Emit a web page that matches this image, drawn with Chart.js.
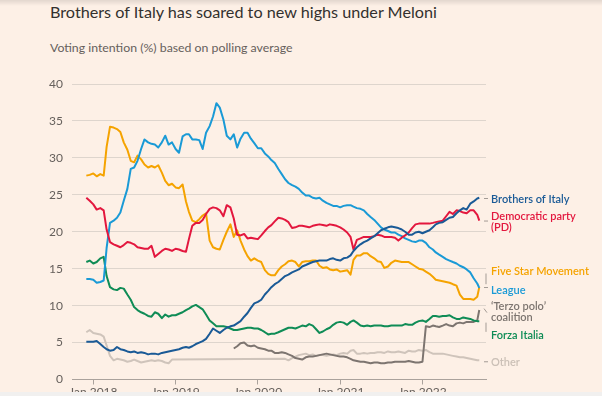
<!DOCTYPE html>
<html>
<head>
<meta charset="utf-8">
<script src="https://cdn.jsdelivr.net/npm/chart.js@4.4.0/dist/chart.umd.min.js"></script>
<style>
  html, body { margin: 0; padding: 0; }
  body {
    width: 602px; height: 396px; overflow: hidden; position: relative;
    background: #fdf0e6; font-family: Lato, "Open Sans", sans-serif;
  }
  #title { position: absolute; left: 50px; top: 2px; font-size: 16.2px; line-height: 19.4px; color: #33302e; white-space: nowrap; }
  #subtitle { position: absolute; left: 50px; top: 40px; font-size: 12.3px; line-height: 15px; color: #66605c; white-space: nowrap; }
  #chart { position: absolute; left: 0; top: 0; }
  #shade { position: absolute; left: 0; top: 0; width: 602px; height: 6px; background: linear-gradient(rgba(0,0,0,0.10), rgba(0,0,0,0)); }
  #foot { position: absolute; left: 0; top: 392px; width: 602px; height: 4px; background: #f1f0ef; }
</style>
</head>
<body>
<div id="title">Brothers of Italy has soared to new highs under Meloni</div>
<div id="subtitle">Voting intention (%) based on polling average</div>
<canvas id="chart" width="602" height="396"></canvas>
<div id="shade"></div>
<div id="foot"></div>
<script>
// polling dates, 1st and 16th of each month
const dates = [
  "2017-12-01", "2017-12-16",
  "2018-01-01", "2018-01-16", "2018-02-01", "2018-02-16", "2018-03-01", "2018-03-16",
  "2018-04-01", "2018-04-16", "2018-05-01", "2018-05-16", "2018-06-01", "2018-06-16",
  "2018-07-01", "2018-07-16", "2018-08-01", "2018-08-16", "2018-09-01", "2018-09-16",
  "2018-10-01", "2018-10-16", "2018-11-01", "2018-11-16", "2018-12-01", "2018-12-16",
  "2019-01-01", "2019-01-16", "2019-02-01", "2019-02-16", "2019-03-01", "2019-03-16",
  "2019-04-01", "2019-04-16", "2019-05-01", "2019-05-16", "2019-06-01", "2019-06-16",
  "2019-07-01", "2019-07-16", "2019-08-01", "2019-08-16", "2019-09-01", "2019-09-16",
  "2019-10-01", "2019-10-16", "2019-11-01", "2019-11-16", "2019-12-01", "2019-12-16",
  "2020-01-01", "2020-01-16", "2020-02-01", "2020-02-16", "2020-03-01", "2020-03-16",
  "2020-04-01", "2020-04-16", "2020-05-01", "2020-05-16", "2020-06-01", "2020-06-16",
  "2020-07-01", "2020-07-16", "2020-08-01", "2020-08-16", "2020-09-01", "2020-09-16",
  "2020-10-01", "2020-10-16", "2020-11-01", "2020-11-16", "2020-12-01", "2020-12-16",
  "2021-01-01", "2021-01-16", "2021-02-01", "2021-02-16", "2021-03-01", "2021-03-16",
  "2021-04-01", "2021-04-16", "2021-05-01", "2021-05-16", "2021-06-01", "2021-06-16",
  "2021-07-01", "2021-07-16", "2021-08-01", "2021-08-16", "2021-09-01", "2021-09-16",
  "2021-10-01", "2021-10-16", "2021-11-01", "2021-11-16", "2021-12-01", "2021-12-16",
  "2022-01-01", "2022-01-16", "2022-02-01", "2022-02-16", "2022-03-01", "2022-03-16",
  "2022-04-01", "2022-04-16", "2022-05-01", "2022-05-16", "2022-06-01", "2022-06-16",
  "2022-07-01", "2022-07-16", "2022-08-01", "2022-08-16", "2022-09-01", "2022-09-10"
];

const brothersOfItaly = [
  5.1, 5.1, 5.1, 5.2, 4.8, 4.4, 4.1, 3.9, 4.0, 4.4,
  4.1, 4.0, 3.8, 3.7, 3.8, 3.6, 3.7, 3.6, 3.4, 3.5,
  3.5, 3.4, 3.6, 3.7, 3.8, 3.9, 4.0, 4.1, 4.3, 4.4,
  4.3, 4.5, 4.8, 5.0, 5.2, 5.5, 6.2, 6.9, 6.6, 6.3,
  6.7, 7.0, 7.2, 7.3, 7.6, 7.9, 8.5, 9.0, 9.7, 10.3,
  10.5, 10.8, 11.5, 12.0, 12.5, 12.9, 13.2, 13.6, 14.0, 14.2,
  14.5, 14.7, 14.9, 15.3, 15.5, 15.7, 15.9, 16.0, 16.1, 16.1,
  16.1, 16.3, 16.4, 16.2, 16.1, 16.4, 16.5, 16.8, 17.4, 17.9,
  18.3, 18.6, 18.8, 19.1, 19.4, 19.8, 20.2, 20.4, 20.6, 20.7,
  20.6, 20.5, 20.3, 20.0, 19.6, 19.6, 19.9, 20.0, 19.8, 20.0,
  20.2, 20.6, 21.0, 21.2, 21.3, 21.6, 21.9, 22.0, 22.5, 22.9,
  23.2, 23.0, 23.8, 24.1, 24.5, 24.6
];

const democraticParty = [
  24.6, 24.2, 23.7, 23.0, 23.2, 22.9, 20.3, 18.6, 18.3, 18.1,
  17.9, 18.2, 18.6, 18.5, 18.3, 17.9, 17.8, 17.7, 17.7, 18.1,
  16.6, 17.0, 17.4, 17.7, 17.6, 17.4, 17.7, 17.6, 17.4, 17.3,
  19.0, 20.8, 21.2, 21.2, 21.6, 22.4, 23.1, 23.3, 23.2, 22.9,
  22.1, 23.6, 23.3, 21.8, 19.6, 19.5, 19.7, 19.1, 19.2, 19.1,
  19.0, 19.5, 20.1, 20.6, 20.9, 21.4, 21.9, 21.8, 21.6, 21.3,
  20.5, 20.6, 20.8, 20.8, 20.7, 20.6, 20.8, 20.9, 21.0, 20.9,
  20.8, 21.0, 20.9, 20.8, 20.6, 20.3, 19.9, 19.3, 17.6, 18.9,
  19.1, 19.3, 19.3, 19.3, 19.4, 19.6, 19.5, 19.3, 19.3, 19.3,
  19.2, 18.8, 19.2, 19.5, 19.9, 20.5, 21.0, 21.1, 21.1, 21.1,
  21.1, 21.2, 21.3, 21.4, 21.5, 22.1, 22.7, 22.4, 22.9, 22.8,
  22.6, 22.5, 22.9, 22.9, 22.3, 21.5
];

const fiveStar = [
  27.6, 27.7, 27.9, 27.5, 27.8, 27.6, 31.5, 34.2, 34.1, 33.9,
  33.5, 32.1, 31.1, 29.6, 29.4, 30.3, 29.8, 29.1, 28.7, 28.9,
  28.7, 29.0, 28.0, 26.9, 26.3, 26.5, 26.0, 25.9, 26.4, 24.1,
  22.7, 21.5, 21.3, 21.7, 22.2, 22.5, 18.8, 17.9, 17.7, 17.6,
  18.9, 20.0, 21.0, 19.3, 20.2, 18.8, 17.6, 16.7, 16.1, 16.4,
  16.1, 15.9, 14.8, 14.3, 14.1, 14.1, 14.8, 15.3, 15.6, 16.0,
  16.1, 15.9, 15.3, 15.9, 16.0, 16.0, 16.1, 16.1, 15.4, 15.1,
  15.2, 14.9, 14.8, 14.9, 14.6, 14.7, 14.8, 14.2, 16.2, 16.8,
  16.8, 17.1, 17.1, 16.7, 16.4, 16.0, 15.9, 15.1, 15.3, 15.8,
  16.1, 16.0, 15.9, 15.9, 15.9, 15.6, 15.3, 15.0, 14.9, 14.6,
  14.3, 13.9, 13.5, 13.4, 13.3, 13.2, 13.1, 12.9, 12.7, 11.5,
  10.9, 10.9, 10.9, 10.8, 11.2, 12.5
];

const league = [
  13.6, 13.6, 13.5, 13.1, 13.2, 13.4, 17.8, 21.2, 21.5, 21.9,
  22.6, 24.2, 25.8, 28.5, 28.7, 29.6, 31.2, 32.5, 32.1, 31.9,
  31.8, 31.4, 32.1, 33.0, 31.8, 32.1, 31.2, 30.7, 32.9, 33.2,
  33.2, 32.5, 32.5, 32.4, 31.2, 33.4, 34.3, 35.6, 37.4, 36.8,
  35.2, 33.0, 32.5, 33.2, 31.4, 32.6, 33.4, 33.4, 32.6, 32.0,
  31.3, 31.3, 30.6, 30.2, 29.7, 29.3, 28.5, 27.8, 27.1, 26.6,
  26.3, 26.1, 25.8, 25.3, 24.9, 24.9, 24.6, 24.5, 24.6, 24.2,
  23.9, 23.7, 23.5, 23.5, 23.3, 23.5, 23.6, 23.6, 23.4, 23.2,
  23.1, 22.9, 22.4, 22.0, 21.6, 21.1, 20.6, 20.3, 20.1, 19.9,
  19.9, 19.6, 19.4, 19.1, 18.9, 18.7, 18.6, 18.8, 18.8, 18.5,
  17.9, 17.6, 17.2, 16.9, 16.6, 16.3, 16.1, 15.9, 15.7, 15.4,
  15.2, 14.9, 14.5, 13.7, 13.0, 12.4
];

const forzaItalia = [
  15.9, 16.1, 15.7, 15.9, 16.4, 16.6, 14.0, 12.5, 12.2, 12.1,
  12.4, 12.3, 11.5, 10.8, 9.8, 9.4, 9.1, 8.9, 8.6, 8.5,
  9.1, 8.9, 8.3, 8.8, 8.5, 8.7, 8.7, 8.9, 9.1, 9.4,
  9.6, 9.9, 10.1, 9.8, 9.5, 8.8, 8.0, 7.6, 7.2, 7.2,
  7.2, 7.1, 6.9, 6.7, 6.7, 6.8, 6.9, 7.0, 7.0, 6.9,
  6.9, 6.7, 6.4, 6.1, 6.2, 6.2, 6.4, 6.6, 6.8, 7.0,
  7.0, 6.9, 7.1, 7.3, 7.2, 7.5, 7.3, 6.8, 6.3, 6.5,
  6.8, 7.0, 7.4, 7.7, 7.8, 7.7, 7.4, 7.8, 8.0, 7.7,
  7.3, 7.2, 7.3, 7.2, 7.3, 7.3, 7.3, 7.2, 7.2, 7.3,
  7.3, 7.3, 7.3, 7.5, 7.4, 7.4, 7.7, 7.9, 8.0, 7.8,
  8.2, 8.6, 8.6, 8.5, 8.6, 8.6, 8.7, 8.4, 8.2, 8.2,
  8.4, 8.3, 8.2, 8.0, 7.9, 7.9
];

// no polling for the coalition before autumn 2019
const terzoPolo = [
  null, null, null, null, null, null, null, null, null, null,
  null, null, null, null, null, null, null, null, null, null,
  null, null, null, null, null, null, null, null, null, null,
  null, null, null, null, null, null, null, null, null, null,
  null, null, null, 4.2, 4.5, 4.9, 5.0, 4.6, 4.5, 4.6,
  4.3, 4.2, 4.1, 3.9, 3.9, 3.6, 3.6, 3.7, 3.6, 3.4,
  3.2, 2.9, 2.8, 2.7, 3.0, 3.1, 3.1, 3.2, 3.3, 3.4,
  3.5, 3.4, 3.3, 3.2, 3.1, 3.1, 3.0, 2.8, 2.6, 2.5,
  2.4, 2.4, 2.3, 2.2, 2.3, 2.3, 2.2, 2.2, 2.3, 2.3,
  2.4, 2.4, 2.4, 2.4, 2.5, 2.4, 2.3, 2.3, 2.4, 7.2,
  7.1, 7.3, 7.2, 7.1, 7.3, 7.5, 7.3, 7.2, 7.6, 7.7,
  7.6, 7.8, 7.8, 7.8, 8.0, 9.4
];

// gap in 2019 is bridged by a straight line in the original
const other = [
  6.4, 6.7, 6.3, 6.2, 6.1, 5.8, 4.6, 3.2, 2.6, 2.8,
  2.7, 2.6, 2.4, 2.5, 2.7, 2.5, 2.3, 2.4, 2.5, 2.6,
  2.5, 2.6, 2.5, 2.3, 2.2, 2.7, null, null, null, null,
  null, null, null, null, null, null, null, null, null, null,
  null, null, null, null, null, null, null, null, null, null,
  null, null, null, null, null, null, null, null, 2.8, 2.6,
  2.9, 3.1, 3.3, 3.4, 3.5, 3.3, 3.4, 3.2, 3.3, 3.3,
  3.2, 3.3, 3.4, 3.3, 3.5, 3.6, 3.5, 3.9, 4.0, 3.5,
  3.5, 3.6, 3.5, 3.6, 3.6, 3.7, 3.7, 3.6, 3.8, 3.7,
  3.7, 3.8, 3.7, 3.6, 3.9, 3.8, 3.8, 4.0, 3.9, 4.0,
  3.7, 3.5, 3.5, 3.5, 3.5, 3.4, 3.3, 3.2, 3.1, 3.0,
  3.0, 2.9, 2.8, 2.7, 2.6, 2.6
];

const tickYears = [2018, 2019, 2020, 2021, 2022];

// decimal year from "YYYY-MM-DD"
function toYear(s) {
  const [y, m, d] = s.split("-").map(Number);
  const start = Date.UTC(y, 0, 1), end = Date.UTC(y + 1, 0, 1);
  return y + (Date.UTC(y, m - 1, d) - start) / (end - start);
}

function points(values) {
  return dates
    .map((d, i) => ({ x: toYear(d), y: values[i] }))
    .filter((p) => p.y !== null);
}

const series = [
  { label: "Brothers of Italy", values: brothersOfItaly, color: "#1a5a96" },
  { label: "Democratic party (PD)", values: democraticParty, color: "#e3173e" },
  { label: "League", values: league, color: "#1a9ad6" },
  { label: "Five Star Movement", values: fiveStar, color: "#f5a300" },
  { label: "Forza Italia", values: forzaItalia, color: "#0f8c56" },
  { label: "'Terzo polo' coalition", values: terzoPolo, color: "#7d7570" },
  { label: "Other", values: other, color: "#cfc4bb" },
];

// right-hand labels: text lines, colour, value where the first line sits
const endLabels = [
  { lines: ["Brothers of Italy"], color: "#1a5a96", at: 24.5 },
  { lines: ["Democratic party", "(PD)"], color: "#e3173e", at: 22.1 },
  { lines: ["Five Star Movement"], color: "#f5a300", at: 14.65 },
  { lines: ["League"], color: "#1a9ad6", at: 12.2 },
  { lines: ["\u2018Terzo polo\u2019", "coalition"], color: "#7d7570", at: 9.93 },
  { lines: ["Forza Italia"], color: "#0f8c56", at: 6.0 },
  { lines: ["Other"], color: "#cbc0b7", at: 2.4 },
];

// leader marks: [dx1, value1, dx2, value2] from the right edge of the plot
const leaders = [
  [-2, 24.5, 2, 24.5],
  [-2, 21.45, 2, 21.45],
  [0, 14.35, 0, 12.9],
  [-2, 12.45, 2, 12.45],
  [-2, 9.6, 1, 9.05],
  [0, 7.7, 0, 6.45],
  [-2, 2.4, 2, 2.4],
];

const endLabelPlugin = {
  id: "endLabels",
  afterDraw(chart) {
    const { ctx, chartArea, scales } = chart;
    const y = scales.y;
    ctx.save();
    ctx.strokeStyle = "#a39b95";
    ctx.lineWidth = 1;
    leaders.forEach(([dx1, v1, dx2, v2]) => {
      ctx.beginPath();
      ctx.moveTo(chartArea.right + dx1, y.getPixelForValue(v1));
      ctx.lineTo(chartArea.right + dx2, y.getPixelForValue(v2));
      ctx.stroke();
    });
    ctx.font = "600 11px Lato, 'Open Sans', sans-serif";
    ctx.textAlign = "left";
    ctx.textBaseline = "alphabetic";
    endLabels.forEach((l) => {
      ctx.fillStyle = l.color;
      const y0 = y.getPixelForValue(l.at) + 4.2;
      l.lines.forEach((t, k) => ctx.fillText(t, chartArea.right + 5, y0 + k * 11));
    });
    ctx.restore();
  },
};

new Chart(document.getElementById("chart"), {
  type: "line",
  data: {
    datasets: series.map((s) => ({
      label: s.label,
      data: points(s.values),
      borderColor: s.color,
      borderWidth: 2,
      pointRadius: 0,
      tension: 0,
      borderJoinStyle: "round",
      fill: false,
    })),
  },
  options: {
    responsive: false,
    animation: false,
    devicePixelRatio: 1,
    layout: { padding: { left: 40, right: 116, top: 84, bottom: 0 } },
    plugins: { legend: { display: false }, tooltip: { enabled: false } },
    scales: {
      x: {
        type: "linear",
        min: 2017.741,
        max: 2022.772,
        afterBuildTicks: (scale) => {
          scale.ticks = tickYears.map((v) => ({ value: v }));
        },
        afterFit: (scale) => { scale.height = 16.5; },
        grid: { drawOnChartArea: false, drawTicks: true, tickLength: 5, color: "#aaa29c" },
        border: { display: true, color: "#aaa29c" },
        ticks: {
          autoSkip: false,
          maxRotation: 0,
          padding: 0,
          color: "#66605c",
          font: { family: "Lato", size: 12 },
          callback: (v) => "Jan " + v,
        },
      },
      y: {
        min: 0,
        max: 40,
        afterFit: (scale) => { scale.width = 32; },
        grid: { drawTicks: false, color: "#ded5cd" },
        border: { display: false },
        ticks: {
          stepSize: 5,
          padding: 9,
          color: "#66605c",
          font: { family: "Lato", size: 12 },
        },
      },
    },
  },
  plugins: [endLabelPlugin],
});
</script>
</body>
</html>
